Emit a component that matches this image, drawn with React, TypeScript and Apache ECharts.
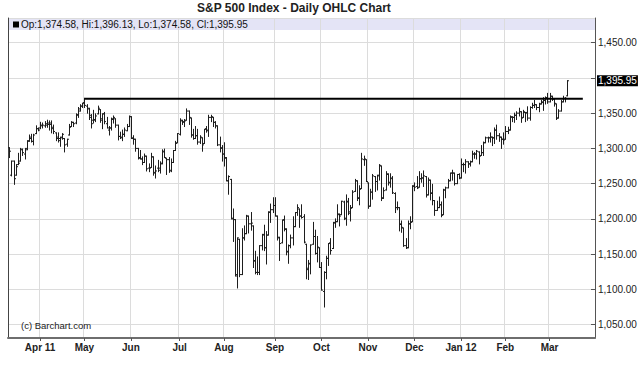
import React, { useEffect, useRef } from 'react';
import * as echarts from 'echarts';

// Rows: [day of month, open, high, low, close]
const mar11 = [
  [14, 1301, 1301, 1287, 1296], [15, 1262, 1282, 1261, 1282], [16, 1282, 1282, 1249, 1257],
  [17, 1262, 1277, 1262, 1274], [18, 1277, 1293, 1277, 1279], [21, 1282, 1300, 1282, 1298],
  [22, 1299, 1299, 1290, 1294], [23, 1292, 1300, 1285, 1298], [24, 1300, 1311, 1298, 1310],
  [25, 1311, 1319, 1310, 1314], [28, 1316, 1320, 1309, 1310], [29, 1310, 1320, 1305, 1319],
  [30, 1321, 1332, 1321, 1328], [31, 1328, 1329, 1325, 1326],
];
const apr11 = [
  [1, 1329, 1337, 1328, 1332], [4, 1333, 1336, 1329, 1333], [5, 1332, 1338, 1330, 1333],
  [6, 1335, 1340, 1330, 1336], [7, 1334, 1339, 1326, 1334], [8, 1336, 1339, 1322, 1328],
  [11, 1330, 1333, 1321, 1324], [12, 1322, 1322, 1311, 1314], [13, 1316, 1322, 1309, 1314],
  [14, 1311, 1316, 1303, 1315], [15, 1316, 1321, 1313, 1320], [18, 1314, 1314, 1295, 1305],
  [19, 1306, 1313, 1303, 1313], [20, 1319, 1334, 1319, 1330], [21, 1331, 1338, 1331, 1337],
  [25, 1337, 1337, 1331, 1335], [26, 1336, 1349, 1335, 1347], [27, 1348, 1358, 1344, 1356],
  [28, 1353, 1362, 1353, 1360], [29, 1360, 1364, 1358, 1364],
];
const may11 = [
  [2, 1365, 1371, 1358, 1361], [3, 1360, 1362, 1350, 1357], [4, 1356, 1357, 1341, 1347],
  [5, 1344, 1348, 1329, 1335], [6, 1340, 1354, 1336, 1340], [9, 1341, 1349, 1338, 1346],
  [10, 1349, 1360, 1349, 1357], [11, 1355, 1355, 1337, 1342], [12, 1340, 1349, 1328, 1349],
  [13, 1349, 1351, 1335, 1338], [16, 1335, 1344, 1329, 1329], [17, 1326, 1331, 1319, 1329],
  [18, 1329, 1343, 1326, 1341], [19, 1342, 1346, 1336, 1344], [20, 1342, 1342, 1330, 1333],
  [23, 1333, 1333, 1312, 1317], [24, 1317, 1323, 1314, 1316], [25, 1315, 1326, 1311, 1320],
  [26, 1320, 1329, 1317, 1326], [27, 1325, 1334, 1325, 1331], [31, 1331, 1346, 1331, 1345],
];
const jun11 = [
  [1, 1345, 1345, 1314, 1315], [2, 1314, 1318, 1306, 1313], [3, 1313, 1313, 1296, 1300],
  [6, 1300, 1300, 1285, 1286], [7, 1287, 1297, 1285, 1285], [8, 1285, 1288, 1277, 1280],
  [9, 1280, 1292, 1280, 1289], [10, 1289, 1289, 1268, 1271], [13, 1272, 1278, 1267, 1272],
  [14, 1273, 1293, 1273, 1288], [15, 1288, 1288, 1262, 1265], [16, 1266, 1275, 1258, 1268],
  [17, 1272, 1283, 1267, 1272], [20, 1269, 1281, 1265, 1278], [21, 1279, 1298, 1278, 1296],
  [22, 1295, 1299, 1287, 1287], [23, 1286, 1286, 1263, 1284], [24, 1284, 1287, 1266, 1268],
  [27, 1269, 1285, 1267, 1280], [28, 1280, 1297, 1280, 1297], [29, 1297, 1310, 1297, 1307],
  [30, 1308, 1321, 1308, 1321],
];
const jul11 = [
  [1, 1320, 1342, 1319, 1340], [5, 1339, 1340, 1334, 1338], [6, 1337, 1341, 1331, 1339],
  [7, 1340, 1356, 1340, 1353], [8, 1353, 1353, 1334, 1344], [11, 1343, 1343, 1316, 1319],
  [12, 1319, 1327, 1313, 1314], [13, 1314, 1331, 1314, 1318], [14, 1318, 1327, 1306, 1309],
  [15, 1309, 1318, 1307, 1316], [18, 1315, 1315, 1296, 1305], [19, 1307, 1327, 1307, 1327],
  [20, 1328, 1331, 1323, 1326], [21, 1325, 1347, 1317, 1344], [22, 1344, 1347, 1338, 1345],
  [25, 1344, 1344, 1331, 1337], [26, 1337, 1338, 1329, 1332], [27, 1332, 1332, 1304, 1305],
  [28, 1305, 1316, 1295, 1301], [29, 1300, 1304, 1282, 1292],
];
const aug11 = [
  [1, 1292, 1308, 1275, 1287], [2, 1286, 1287, 1254, 1254], [3, 1254, 1261, 1235, 1260],
  [4, 1256, 1256, 1200, 1200], [5, 1201, 1214, 1168, 1199], [8, 1199, 1199, 1119, 1119],
  [9, 1121, 1173, 1102, 1173], [10, 1171, 1171, 1118, 1121], [11, 1121, 1186, 1121, 1173],
  [12, 1173, 1190, 1170, 1179], [15, 1179, 1205, 1179, 1204], [16, 1204, 1204, 1180, 1193],
  [17, 1193, 1209, 1184, 1194], [18, 1190, 1190, 1131, 1141], [19, 1140, 1154, 1122, 1124],
  [22, 1124, 1146, 1121, 1124], [23, 1124, 1162, 1121, 1162], [24, 1162, 1178, 1156, 1178],
  [25, 1177, 1191, 1155, 1159], [26, 1159, 1182, 1136, 1177], [29, 1177, 1210, 1177, 1210],
  [30, 1209, 1221, 1195, 1213], [31, 1213, 1230, 1209, 1219],
];
const sep11 = [
  [1, 1219, 1230, 1204, 1204], [2, 1204, 1204, 1170, 1174], [6, 1173, 1174, 1141, 1165],
  [7, 1166, 1198, 1166, 1199], [8, 1198, 1204, 1183, 1186], [9, 1185, 1186, 1149, 1154],
  [12, 1153, 1163, 1137, 1162], [13, 1162, 1177, 1159, 1173], [14, 1173, 1203, 1163, 1189],
  [15, 1189, 1209, 1189, 1209], [16, 1209, 1220, 1205, 1216], [19, 1214, 1214, 1188, 1204],
  [20, 1204, 1220, 1201, 1202], [21, 1203, 1206, 1166, 1167], [22, 1164, 1164, 1115, 1130],
  [23, 1128, 1141, 1114, 1136], [26, 1137, 1163, 1122, 1163], [27, 1164, 1195, 1164, 1175],
  [28, 1175, 1184, 1150, 1151], [29, 1151, 1175, 1139, 1160], [30, 1159, 1159, 1131, 1131],
];
const oct11 = [
  [3, 1131, 1138, 1099, 1099], [4, 1097, 1125, 1075, 1124], [5, 1124, 1147, 1115, 1144],
  [6, 1144, 1165, 1134, 1165], [7, 1166, 1172, 1150, 1155], [10, 1158, 1195, 1158, 1195],
  [11, 1194, 1200, 1188, 1196], [12, 1196, 1220, 1196, 1207], [13, 1206, 1207, 1190, 1204],
  [14, 1206, 1225, 1206, 1225], [17, 1224, 1225, 1199, 1201], [18, 1200, 1234, 1191, 1225],
  [19, 1224, 1229, 1206, 1210], [20, 1208, 1219, 1197, 1215], [21, 1216, 1240, 1216, 1238],
  [24, 1239, 1256, 1239, 1254], [25, 1254, 1254, 1226, 1229], [26, 1230, 1247, 1220, 1242],
  [27, 1243, 1293, 1243, 1285], [28, 1284, 1289, 1276, 1285], [31, 1284, 1284, 1253, 1253],
];
const nov11 = [
  [1, 1251, 1251, 1215, 1218], [2, 1218, 1242, 1218, 1238], [3, 1238, 1263, 1228, 1261],
  [4, 1260, 1260, 1239, 1253], [7, 1253, 1262, 1241, 1261], [8, 1262, 1277, 1255, 1276],
  [9, 1275, 1275, 1226, 1229], [10, 1230, 1244, 1229, 1240], [11, 1241, 1267, 1241, 1264],
  [14, 1263, 1264, 1248, 1252], [15, 1251, 1264, 1245, 1258], [16, 1257, 1260, 1236, 1237],
  [17, 1236, 1237, 1209, 1216], [18, 1216, 1224, 1213, 1216], [21, 1216, 1216, 1183, 1193],
  [22, 1192, 1197, 1181, 1188], [23, 1187, 1187, 1161, 1162], [25, 1162, 1172, 1158, 1159],
  [28, 1159, 1197, 1159, 1193], [29, 1193, 1203, 1186, 1195], [30, 1196, 1247, 1196, 1247],
];
const dec11 = [
  [1, 1246, 1251, 1240, 1245], [2, 1246, 1260, 1243, 1244], [5, 1245, 1267, 1245, 1257],
  [6, 1257, 1264, 1252, 1258], [7, 1258, 1268, 1246, 1261], [8, 1260, 1260, 1231, 1234],
  [9, 1234, 1258, 1234, 1255], [12, 1255, 1255, 1227, 1236], [13, 1237, 1249, 1220, 1226],
  [14, 1226, 1226, 1205, 1212], [15, 1212, 1225, 1212, 1216], [16, 1216, 1231, 1216, 1220],
  [19, 1220, 1224, 1203, 1205], [20, 1206, 1242, 1206, 1241], [21, 1241, 1245, 1230, 1244],
  [22, 1244, 1256, 1244, 1254], [23, 1254, 1265, 1254, 1265], [27, 1265, 1269, 1255, 1265],
  [28, 1265, 1265, 1248, 1250], [29, 1250, 1263, 1250, 1263], [30, 1263, 1264, 1257, 1258],
];
const jan12 = [
  [3, 1258, 1285, 1258, 1277], [4, 1277, 1279, 1267, 1277], [5, 1277, 1284, 1265, 1281],
  [6, 1281, 1281, 1273, 1278], [9, 1278, 1282, 1275, 1281], [10, 1281, 1296, 1281, 1292],
  [11, 1292, 1294, 1286, 1292], [12, 1292, 1297, 1285, 1296], [13, 1295, 1295, 1278, 1289],
  [17, 1290, 1304, 1290, 1294], [18, 1294, 1309, 1290, 1308], [19, 1308, 1316, 1308, 1315],
  [20, 1315, 1316, 1309, 1315], [23, 1315, 1322, 1309, 1316], [24, 1316, 1316, 1304, 1315],
  [25, 1315, 1329, 1307, 1326], [26, 1326, 1333, 1313, 1318], [27, 1318, 1321, 1310, 1316],
  [30, 1316, 1316, 1300, 1313], [31, 1313, 1322, 1306, 1312],
];
const feb12 = [
  [1, 1313, 1331, 1313, 1324], [2, 1324, 1330, 1321, 1326], [3, 1326, 1346, 1326, 1345],
  [6, 1344, 1345, 1338, 1344], [7, 1344, 1350, 1337, 1347], [8, 1347, 1352, 1341, 1350],
  [9, 1350, 1357, 1346, 1352], [10, 1352, 1352, 1337, 1343], [13, 1344, 1354, 1344, 1352],
  [14, 1351, 1351, 1338, 1350], [15, 1351, 1359, 1340, 1343], [16, 1343, 1359, 1340, 1358],
  [17, 1358, 1364, 1357, 1361], [21, 1361, 1368, 1358, 1362], [22, 1362, 1362, 1355, 1358],
  [23, 1358, 1364, 1352, 1363], [24, 1363, 1368, 1363, 1366], [27, 1365, 1372, 1354, 1368],
  [28, 1368, 1373, 1363, 1372], [29, 1372, 1378, 1364, 1366],
];
const mar12 = [
  [1, 1366, 1378, 1366, 1374], [2, 1374, 1374, 1368, 1370], [5, 1370, 1370, 1360, 1364],
  [6, 1363, 1363, 1341, 1343], [7, 1343, 1355, 1343, 1353], [8, 1353, 1368, 1353, 1366],
  [9, 1366, 1374, 1366, 1371], [12, 1371, 1372, 1366, 1371],
  [13, 1374.58, 1396.13, 1374.58, 1395.95],
];
// empty trading days kept at the right edge of the chart
const mar12Empty = [14, 15, 16, 19, 20, 21, 22, 23, 26, 27, 28, 29];

const monthBlocks = [
  { year: 2011, month: 3, rows: mar11, label: '' },
  { year: 2011, month: 4, rows: apr11, label: 'Apr 11' },
  { year: 2011, month: 5, rows: may11, label: 'May' },
  { year: 2011, month: 6, rows: jun11, label: 'Jun' },
  { year: 2011, month: 7, rows: jul11, label: 'Jul' },
  { year: 2011, month: 8, rows: aug11, label: 'Aug' },
  { year: 2011, month: 9, rows: sep11, label: 'Sep' },
  { year: 2011, month: 10, rows: oct11, label: 'Oct' },
  { year: 2011, month: 11, rows: nov11, label: 'Nov' },
  { year: 2011, month: 12, rows: dec11, label: 'Dec' },
  { year: 2012, month: 1, rows: jan12, label: 'Jan 12' },
  { year: 2012, month: 2, rows: feb12, label: 'Feb' },
  { year: 2012, month: 3, rows: mar12, label: 'Mar' },
];

const titleText = 'S&P 500 Index - Daily OHLC Chart';
const legendText = 'Op:1,374.58, Hi:1,396.13, Lo:1,374.58, Cl:1,395.95';
const copyrightText = '(c) Barchart.com';
const lastClose = 1395.95;
const resistanceLevel = 1370.58;
const resistanceStart = '2011-05-02';
const resistanceEnd = '2012-03-22';
const yMin = 1031;
const yMax = 1485;
const hiddenYLabel = 1400;

const FONT = '"Liberation Sans", Arial, Helvetica, sans-serif';

const pad = (n: number) => (n < 10 ? '0' + n : '' + n);
const dateKey = (y: number, m: number, d: number) => `${y}-${pad(m)}-${pad(d)}`;

const categories: string[] = [];
const ohlc: number[][] = [];
const tickLabels = new Map<number, string>();
monthBlocks.forEach((b) => {
  b.rows.forEach((r, i) => {
    const idx = categories.length;
    if (i === 0 && b.label) tickLabels.set(idx, b.label);
    categories.push(dateKey(b.year, b.month, r[0]));
    ohlc.push([idx, r[1], r[2], r[3], r[4]]);
  });
});
mar12Empty.forEach((d) => categories.push(dateKey(2012, 3, d)));

const fmt2 = (v: number) =>
  v.toLocaleString('en-US', { minimumFractionDigits: 2, maximumFractionDigits: 2 });

export default function App() {
  const ref = useRef<HTMLDivElement>(null);
  useEffect(() => {
    document.body.style.margin = '0';
    if (!ref.current) return;
    const chart = echarts.init(ref.current, undefined, { renderer: 'svg' });
    const isTick = (i: number) => tickLabels.has(i);
    const option: any = {
      animation: false,
      backgroundColor: '#ffffff',
      title: {
        text: titleText,
        left: 197,
        top: 2,
        padding: 0,
        textStyle: { fontFamily: FONT, fontSize: 12, fontWeight: 'bold', color: '#222' },
      },
      grid: { left: 8, right: 45, top: 18, bottom: 37, containLabel: false },
      xAxis: {
        type: 'category',
        data: categories,
        boundaryGap: true,
        axisLine: { onZero: false, lineStyle: { color: '#6e6e6e', width: 2 } },
        axisTick: {
          show: true,
          alignWithLabel: true,
          interval: (i: number) => isTick(i),
          length: 3,
          lineStyle: { color: '#555' },
        },
        axisLabel: {
          interval: (i: number) => isTick(i),
          formatter: (_v: string, i: number) => tickLabels.get(i) ?? '',
          fontFamily: FONT,
          fontSize: 10,
          fontWeight: 'bold',
          color: '#222',
          margin: 4,
        },
        splitLine: {
          show: true,
          interval: (i: number) => isTick(i),
          lineStyle: { color: '#dcdcdc', width: 1 },
        },
      },
      yAxis: [
        {
          type: 'value',
          position: 'right',
          min: yMin,
          max: yMax,
          splitNumber: 9,
          axisLine: { show: true, onZero: false, lineStyle: { color: '#555' } },
          axisTick: { show: true, inside: true, length: 4, lineStyle: { color: '#555' } },
          axisLabel: {
            showMinLabel: false,
            showMaxLabel: false,
            margin: 3,
            fontFamily: FONT,
            fontSize: 10,
            color: '#222',
            formatter: (v: number) => (v % 50 === 0 && v !== hiddenYLabel ? fmt2(v) : ''),
          },
          splitLine: { show: true, lineStyle: { color: '#dcdcdc', width: 1 } },
        },
        {
          type: 'value',
          position: 'left',
          min: yMin,
          max: yMax,
          splitNumber: 9,
          axisLine: { show: true, onZero: false, lineStyle: { color: '#444' } },
          axisTick: { show: false },
          axisLabel: { show: false },
          splitLine: { show: false },
        },
      ],
      graphic: {
        elements: [
          {
            type: 'rect',
            z: -1,
            silent: true,
            shape: { x: 8.5, y: 18, width: 586.5, height: 12 },
            style: { fill: '#e4e4f6' },
          },
          {
            type: 'rect',
            z: 10,
            silent: true,
            shape: { x: 13, y: 21.5, width: 6, height: 6 },
            style: { fill: '#000' },
          },
          {
            type: 'text',
            z: 10,
            silent: true,
            x: 21,
            y: 24.5,
            style: {
              text: legendText,
              fill: '#111',
              font: `10px ${FONT}`,
              verticalAlign: 'middle',
              align: 'left',
            },
          },
          {
            type: 'text',
            z: 10,
            silent: true,
            x: 21,
            y: 325.5,
            style: {
              text: copyrightText,
              fill: '#222',
              font: `9.5px ${FONT}`,
              verticalAlign: 'middle',
              align: 'left',
            },
          },
        ],
      },
      series: [
        {
          type: 'custom',
          name: 'OHLC',
          yAxisIndex: 0,
          data: ohlc,
          encode: { x: 0, y: [1, 2, 3, 4] },
          z: 3,
          renderItem: (_params: any, api: any) => {
            const x = api.value(0);
            const o = api.coord([x, api.value(1)]);
            const h = api.coord([x, api.value(2)]);
            const l = api.coord([x, api.value(3)]);
            const c = api.coord([x, api.value(4)]);
            const px = Math.round(o[0]) + 0.5;
            const st = { stroke: '#1e1e1e', lineWidth: 1 };
            return {
              type: 'group',
              children: [
                { type: 'line', shape: { x1: px, y1: h[1] - 0.5, x2: px, y2: l[1] + 0.5 }, style: st },
                { type: 'line', shape: { x1: px - 1.5, y1: o[1], x2: px, y2: o[1] }, style: st },
                { type: 'line', shape: { x1: px, y1: c[1], x2: px + 1.5, y2: c[1] }, style: st },
              ],
            };
          },
        },
        {
          type: 'line',
          name: 'Resistance',
          yAxisIndex: 0,
          z: 4,
          symbol: 'none',
          lineStyle: { color: '#000', width: 2 },
          data: [
            [resistanceStart, resistanceLevel],
            [resistanceEnd, resistanceLevel],
          ],
          markLine: {
            silent: true,
            symbol: 'none',
            animation: false,
            lineStyle: { color: 'rgba(0,0,0,0)', width: 0 },
            label: {
              show: true,
              position: 'end',
              distance: 2,
              formatter: () => fmt2(lastClose),
              backgroundColor: '#000',
              color: '#fff',
              fontFamily: FONT,
              fontSize: 10,
              padding: [1, 1, 0, 1],
            },
            data: [{ yAxis: lastClose }],
          },
        },
      ],
    };
    chart.setOption(option);
    return () => chart.dispose();
  }, []);
  return (
    <div
      ref={ref}
      style={{ position: 'absolute', left: 0, top: 0, width: 640, height: 375 }}
    />
  );
}
